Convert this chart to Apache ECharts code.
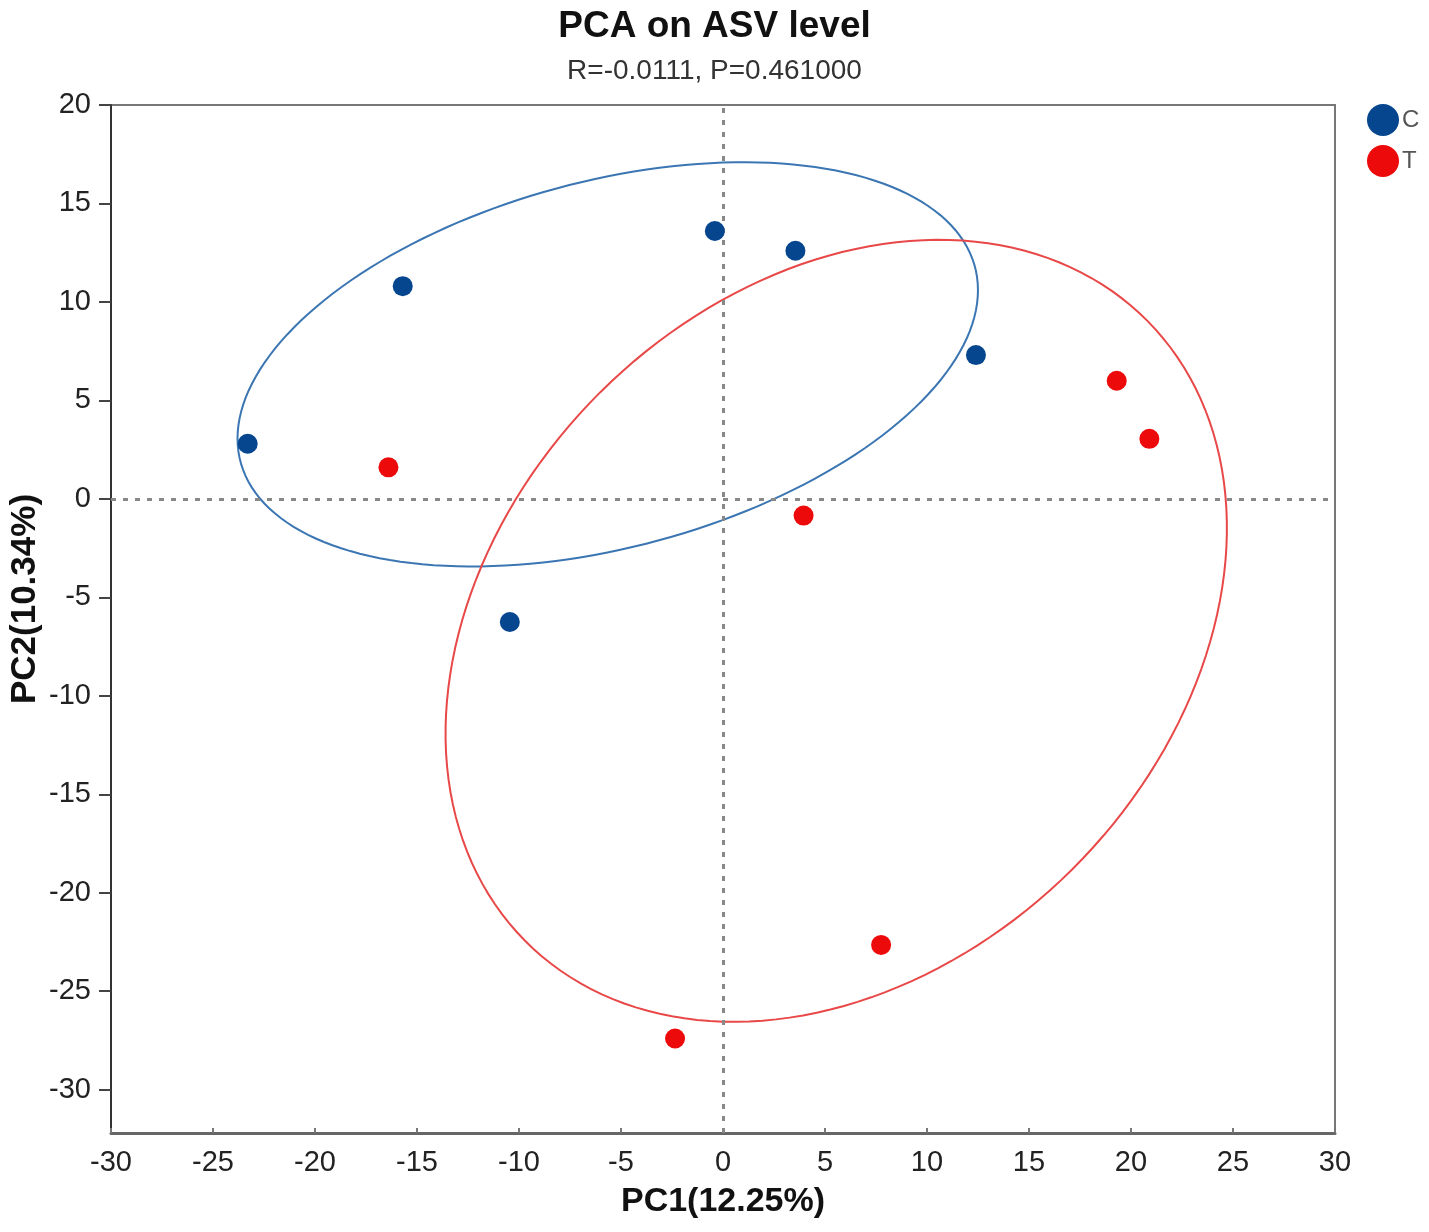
<!DOCTYPE html>
<html>
<head>
<meta charset="utf-8">
<title>PCA on ASV level</title>
<script src="https://cdn.jsdelivr.net/npm/echarts@6/dist/echarts.min.js"></script>
<style>
  html, body { margin: 0; padding: 0; background: #fff; }
  #chart { width: 1429px; height: 1232px; }
</style>
</head>
<body>
<div id="chart"></div>
<script>
// sample scores on PC1 / PC2, per group
var groupNames = ['C', 'T'];
var cPoints = [[-23.3, 2.8], [-15.7, 10.8], [-0.4, 13.6], [3.55, 12.6], [12.4, 7.3], [-10.45, -6.25]];
var tPoints = [[-16.4, 1.6], [19.3, 6.0], [20.9, 3.05], [3.95, -0.85], [7.75, -22.65], [-2.35, -27.4]];

// confidence ellipses: [centre x, centre y, semi-axis a, semi-axis b, angle in degrees]
var cEllipse = [-5.65, 6.83, 18.67, 9.28, 15.7];
var tEllipse = [5.55, -6.7, 21.94, 16.72, 48.9];

var yTicks = [-30, -25, -20, -15, -10, -5, 0, 5, 10, 15, 20];

var blue = '#06468f';
var red = '#ec0a0a';

function ellipseRenderer(stroke) {
    return function (params, api) {
        var cx = api.value(0), cy = api.value(1);
        var a = api.value(2), b = api.value(3);
        var ang = api.value(4) * Math.PI / 180;
        var pts = [];
        for (var k = 0; k < 180; k++) {
            var t = k / 180 * 2 * Math.PI;
            var x = cx + a * Math.cos(t) * Math.cos(ang) - b * Math.sin(t) * Math.sin(ang);
            var y = cy + a * Math.cos(t) * Math.sin(ang) + b * Math.sin(t) * Math.cos(ang);
            pts.push(api.coord([x, y]));
        }
        return {
            type: 'polygon',
            shape: { points: pts },
            style: { fill: 'none', stroke: stroke, lineWidth: 2 }
        };
    };
}

var font = 'Liberation Sans, Arial, sans-serif';

var option = {
    animation: false,
    textStyle: { fontFamily: font },
    title: {
        text: 'PCA on ASV level',
        subtext: 'R=-0.0111, P=0.461000',
        left: 'center',
        top: 3,
        itemGap: 12,
        textStyle: { fontSize: 37, fontWeight: 'bold', color: '#111', fontFamily: font },
        subtextStyle: { fontSize: 28, color: '#333', fontFamily: font }
    },
    legend: {
        data: groupNames,
        orient: 'vertical',
        left: 1362,
        top: 99,
        icon: 'circle',
        itemWidth: 32,
        itemHeight: 32,
        itemGap: 9,
        textStyle: { fontSize: 24, color: '#555', padding: [0, 0, 0, -2] }
    },
    grid: {
        left: 111,
        right: 94,
        top: 105,
        bottom: 99,
        outerBoundsMode: 'none',
        show: true,
        borderColor: '#777',
        borderWidth: 2
    },
    xAxis: {
        type: 'value',
        min: -30,
        max: 30,
        interval: 5,
        name: 'PC1(12.25%)',
        nameLocation: 'middle',
        nameGap: 52,
        nameMoveOverlap: false,
        nameTextStyle: { fontSize: 34, fontWeight: 'bold', color: '#111' },
        axisLine: { onZero: false, lineStyle: { color: '#666', width: 3 } },
        axisTick: { inside: true, length: 5, lineStyle: { color: '#777', width: 2 } },
        axisLabel: { fontSize: 29, color: '#222', margin: 15 },
        splitLine: { show: false }
    },
    yAxis: {
        type: 'value',
        min: -32.2,
        max: 20,
        name: 'PC2(10.34%)',
        nameLocation: 'middle',
        nameRotate: 90,
        nameGap: 68,
        nameMoveOverlap: false,
        nameTextStyle: { fontSize: 35, fontWeight: 'bold', color: '#111', padding: [0, 0, 0, 40] },
        axisLine: { onZero: false, lineStyle: { color: '#333', width: 2 } },
        axisTick: { length: 12, customValues: yTicks, lineStyle: { color: '#444', width: 2 } },
        axisLabel: { fontSize: 29, color: '#222', margin: 20, customValues: yTicks },
        splitLine: { show: false }
    },
    series: [
        {
            name: 'C ellipse',
            type: 'custom',
            renderItem: ellipseRenderer('#3b76b3'),
            encode: { x: 0, y: 1 },
            data: [cEllipse],
            silent: true,
            z: 2
        },
        {
            name: 'T ellipse',
            type: 'custom',
            renderItem: ellipseRenderer('#e84848'),
            encode: { x: 0, y: 1 },
            data: [tEllipse],
            silent: true,
            z: 2
        },
        {
            name: 'C',
            type: 'scatter',
            symbolSize: 20,
            itemStyle: { color: blue, opacity: 1 },
            data: cPoints,
            z: 5,
            markLine: {
                silent: true,
                symbol: 'none',
                label: { show: false },
                lineStyle: { type: [5, 7], color: '#888', width: 3 },
                data: [{ xAxis: 0 }, { yAxis: 0 }]
            }
        },
        {
            name: 'T',
            type: 'scatter',
            symbolSize: 20,
            itemStyle: { color: red, opacity: 1 },
            data: tPoints,
            z: 5
        }
    ]
};

var myChart = echarts.init(document.getElementById('chart'));
myChart.setOption(option);
</script>
</body>
</html>
